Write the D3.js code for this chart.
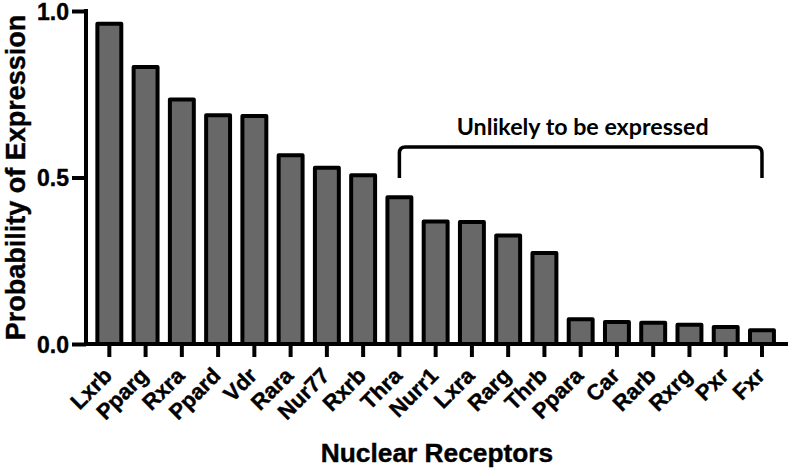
<!DOCTYPE html>
<html>
<head>
<meta charset="utf-8">
<script src="https://cdn.jsdelivr.net/npm/d3@7"></script>
<style>
  html, body { margin: 0; padding: 0; background: #fff; }
  svg { display: block; }
</style>
</head>
<body>
<svg id="chart" width="790" height="471"></svg>
<script>
const categories = ["Lxrb","Pparg","Rxra","Ppard","Vdr","Rara","Nur77","Rxrb","Thra","Nurr1","Lxra","Rarg","Thrb","Ppara","Car","Rarb","Rxrg","Pxr","Fxr"];
const values = [0.962,0.832,0.734,0.687,0.685,0.567,0.529,0.507,0.441,0.368,0.366,0.326,0.273,0.074,0.066,0.064,0.058,0.051,0.041];
const yTicks = [0, 0.5, 1.0];
const yTitle = "Probability of Expression";
const xTitle = "Nuclear Receptors";
const bracketLabel = "Unlikely to be expressed";
const bracketFrom = "Thra";
const bracketTo = "Fxr";

const svg = d3.select("#chart");
const font = '"Liberation Sans", Arial, Helvetica, sans-serif';

const y = d3.scaleLinear().domain([0, 1]).range([344, 11]);
const x = d3.scaleBand().domain(categories).range([91.2, 780.1]).paddingInner(0.34).paddingOuter(0.17);

// bars
svg.append("g").selectAll("rect").data(categories).join("rect")
  .attr("x", d => x(d))
  .attr("width", x.bandwidth())
  .attr("y", (d, i) => y(values[i]))
  .attr("height", (d, i) => y(0) - y(values[i]))
  .attr("fill", "#686868")
  .attr("stroke", "#000")
  .attr("stroke-width", 4)
  .attr("stroke-linejoin", "round");

// y axis
const yAxis = svg.append("g").attr("transform", "translate(86,0)")
  .call(d3.axisLeft(y).tickValues(yTicks).tickFormat(d3.format(".1f")).tickSize(14).tickSizeOuter(0).tickPadding(3));
yAxis.select(".domain").remove();
yAxis.selectAll(".tick line").attr("stroke", "#000").attr("stroke-width", 4);
yAxis.selectAll(".tick text")
  .style("font-family", font).style("font-weight", "bold").style("font-size", "23px").attr("fill", "#000")
  .attr("stroke", "#000").attr("stroke-width", 0.4)
  .attr("dy", "0.36em");

// x axis
const xAxis = svg.append("g").attr("transform", "translate(0,344)")
  .call(d3.axisBottom(x).tickSize(13).tickSizeOuter(0));
xAxis.select(".domain").remove();
xAxis.selectAll(".tick line").attr("stroke", "#000").attr("stroke-width", 4);
xAxis.selectAll(".tick text")
  .style("font-family", font).style("font-weight", "bold").style("font-size", "22px").attr("fill", "#000")
  .attr("stroke", "#000").attr("stroke-width", 0.4)
  .attr("text-anchor", "end")
  .attr("dy", 0).attr("y", 0)
  .attr("transform", "translate(4,33) rotate(-45)");

// axis lines
svg.append("line").attr("x1", 86).attr("x2", 86).attr("y1", y(1) - 2).attr("y2", y(0) + 2)
  .attr("stroke", "#000").attr("stroke-width", 4);
svg.append("line").attr("x1", 84).attr("x2", 788).attr("y1", y(0)).attr("y2", y(0))
  .attr("stroke", "#000").attr("stroke-width", 4);

// titles
svg.append("text")
  .attr("transform", `translate(25,${(y(0) + y(1)) / 2}) rotate(-90)`)
  .attr("text-anchor", "middle")
  .style("font-family", font).style("font-weight", "bold").style("font-size", "27px")
  .attr("stroke", "#000").attr("stroke-width", 0.4)
  .text(yTitle);
svg.append("text")
  .attr("x", 437).attr("y", 462)
  .attr("text-anchor", "middle")
  .style("font-family", font).style("font-weight", "bold").style("font-size", "26.3px")
  .attr("stroke", "#000").attr("stroke-width", 0.4)
  .text(xTitle);

// bracket
const bx0 = x(bracketFrom) + x.bandwidth() / 2;
const bx1 = x(bracketTo) + x.bandwidth() / 2;
const by = 147, bBottom = 178, r = 6;
svg.append("path")
  .attr("d", `M${bx0},${bBottom} L${bx0},${by + r} Q${bx0},${by} ${bx0 + r},${by} L${bx1 - r},${by} Q${bx1},${by} ${bx1},${by + r} L${bx1},${bBottom}`)
  .attr("fill", "none").attr("stroke", "#000").attr("stroke-width", 3.5);
const bl = svg.append("text")
  .attr("x", (bx0 + bx1) / 2 + 2).attr("y", 135)
  .attr("text-anchor", "middle")
  .style("font-family", '"Lato", "Open Sans", sans-serif').style("font-weight", "bold").style("font-size", "20px")
  .text(bracketLabel);
const blw = bl.node().getComputedTextLength();
bl.style("font-size", (20 * 252 / blw).toFixed(2) + "px");
</script>
</body>
</html>
